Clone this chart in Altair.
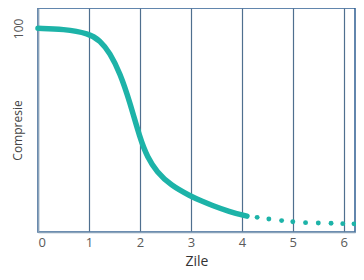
import altair as alt
import pandas as pd

# solid part of the curve (Zile, Compresie)
curve_x = [0, 0.5, 1.0, 1.22, 1.41, 1.61, 1.8, 2.0, 2.15, 2.33, 2.6, 3.0, 3.2, 3.4, 3.75, 4.1]
curve_y = [100, 99.7, 97.5, 94, 88, 78, 64, 46, 36.5, 29.5, 23, 17.5, 15.3, 13.2, 10, 7.8]
# dotted continuation
dot_x = [4.3, 4.53, 4.78, 5.0, 5.25, 5.5, 5.75, 5.98, 6.2]
dot_y = [7.2, 6.4, 5.6, 5.0, 4.6, 4.4, 4.3, 4.1, 4.0]

x_ticks = [0, 1, 2, 3, 4, 5, 6]
y_ticks = [100]

solid = pd.DataFrame({"x": curve_x, "y": curve_y})
dots = pd.DataFrame({"x": dot_x, "y": dot_y})

teal = "#1db3a8"
xscale = alt.Scale(domain=[0, 6.22], nice=False, zero=False)
yscale = alt.Scale(domain=[0, 110], nice=False)

xaxis = alt.Axis(
    values=x_ticks, title="Zile", format="d",
    grid=True, gridColor="#4f6f8f", gridWidth=1.2, gridOpacity=1,
    ticks=False, domainColor="#8aa3ba", domainWidth=1.5,
    labelFont="Open Sans", labelFontSize=13, labelColor="#5a5a5a", labelPadding=4,
    titleFont="Open Sans", titleFontSize=14, titleFontWeight="normal",
    titleColor="#333333", titlePadding=5,
)
yaxis = alt.Axis(
    values=y_ticks, title="Compresie", format="d",
    grid=False, ticks=False, domainColor="#8aa3ba", domainWidth=1.5,
    labelAngle=270, labelAlign="center", labelBaseline="bottom", labelPadding=13,
    labelFont="Open Sans", labelFontSize=12, labelColor="#555555",
    titleFont="Open Sans", titleFontSize=12, titleFontWeight="normal",
    titleColor="#444444", titleAngle=270, titleAlign="center",
    titleBaseline="bottom", titleX=-14, titleY=122,
)

line = alt.Chart(solid).mark_line(
    color=teal, strokeWidth=5.5, strokeCap="round", interpolate="basis"
).encode(
    x=alt.X("x:Q", scale=xscale, axis=xaxis),
    y=alt.Y("y:Q", scale=yscale, axis=yaxis),
)

pts = alt.Chart(dots).mark_circle(color=teal, size=24, opacity=1).encode(
    x=alt.X("x:Q", scale=xscale),
    y=alt.Y("y:Q", scale=yscale),
)

chart = alt.layer(line, pts).properties(
    width=317, height=224,
    autosize=alt.AutoSizeParams(type="none"),
    padding={"left": 30, "top": 0, "right": 1, "bottom": 40},
).configure_view(stroke="#2f5f93", strokeWidth=1.5)

chart.save("out.html", embed_options={"renderer": "svg", "actions": False})
